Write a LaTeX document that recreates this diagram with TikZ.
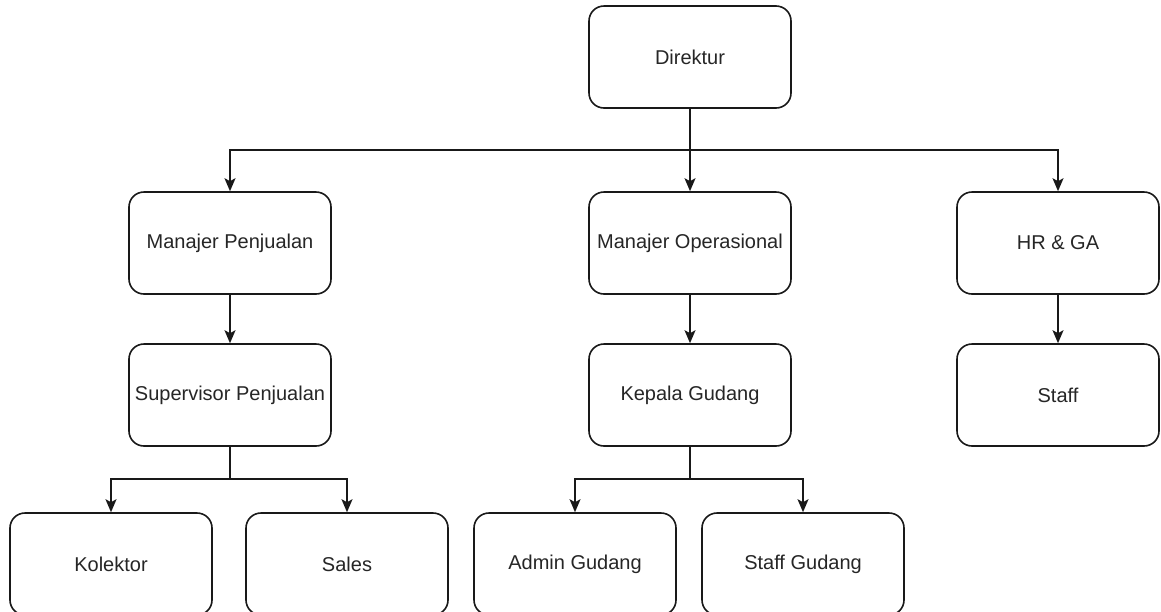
\documentclass[tikz,border=0pt]{standalone}
\usepackage{fontspec}
\setmainfont{Liberation Sans}
\usetikzlibrary{arrows.meta}
\begin{document}
\begin{tikzpicture}[x=1pt,y=-1pt,
  box/.style={draw=black!90, line width=1.6pt, rounded corners=15pt, minimum width=202pt, minimum height=102pt, inner sep=0pt, font=\fontsize{20}{23}\selectfont, text=black!85},
  conn/.style={draw=black!90, line width=1.6pt, -{Stealth[length=13pt,width=11pt,inset=3pt]}}]
\clip (0,0) rectangle (1161,611);
\fill[white] (0,0) rectangle (1161,611);
\node[box] (dir) at (690,57) {Direktur};
\node[box] (mp) at (230,243) {Manajer Penjualan};
\node[box] (mo) at (690,243) {Manajer Operasional};
\node[box] (hr) at (1058,243) {HR \& GA};
\node[box] (sp) at (230,395) {Supervisor Penjualan};
\node[box] (kg) at (690,395) {Kepala Gudang};
\node[box] (st) at (1058,395) {Staff};
\node[box] (ko) at (111,564) {Kolektor};
\node[box] (sa) at (347,564) {Sales};
\node[box] (ag) at (575,564) {Admin Gudang};
\node[box] (sg) at (803,564) {Staff Gudang};
\coordinate (b1) at (690,150);
\coordinate (b2) at (230,479);
\coordinate (b3) at (690,479);
\draw[conn] (dir.south) -- (b1) -| (mp.north);
\draw[conn] (dir.south) -- (mo.north);
\draw[conn] (dir.south) -- (b1) -| (hr.north);
\draw[conn] (mp.south) -- (sp.north);
\draw[conn] (mo.south) -- (kg.north);
\draw[conn] (hr.south) -- (st.north);
\draw[conn] (sp.south) -- (b2) -| (ko.north);
\draw[conn] (sp.south) -- (b2) -| (sa.north);
\draw[conn] (kg.south) -- (b3) -| (ag.north);
\draw[conn] (kg.south) -- (b3) -| (sg.north);
\end{tikzpicture}
\end{document}
